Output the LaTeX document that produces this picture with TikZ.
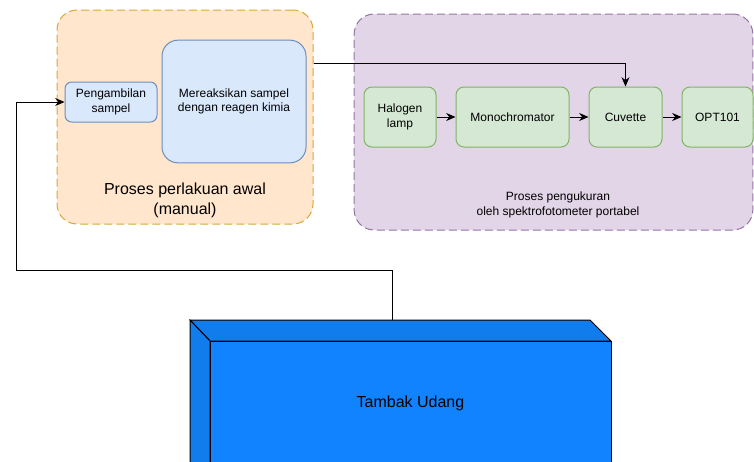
\documentclass[tikz,border=0pt]{standalone}
\usepackage{fontspec}
\setmainfont{Liberation Sans}
\usetikzlibrary{positioning,arrows.meta}
\definecolor{awalfill}{HTML}{FFE6CC}
\definecolor{awalline}{HTML}{D6A83A}
\definecolor{ukurfill}{HTML}{E1D5E7}
\definecolor{ukurline}{HTML}{9673A6}
\definecolor{birufill}{HTML}{DAE8FC}
\definecolor{biruline}{HTML}{6C8EBF}
\definecolor{hijaufill}{HTML}{D5E8D4}
\definecolor{hijauline}{HTML}{82B366}
\definecolor{tambakfront}{HTML}{1283FF}
\definecolor{tambakside}{HTML}{117CEB}
\tikzset{
  wadah/.style={draw, line width=0.75pt, dash pattern=on 6pt off 3pt, rounded corners=15pt},
  birubox/.style={draw=biruline, fill=birufill, line width=0.75pt, align=center,
    font=\fontsize{9}{11}\selectfont},
  hijaubox/.style={draw=hijauline, fill=hijaufill, line width=0.75pt, align=center,
    rounded corners=6pt, minimum height=45pt, font=\fontsize{9}{11}\selectfont},
  panah/.style={-{Stealth[length=7pt,width=6pt]}, line width=0.75pt}
}
\begin{document}
\begin{tikzpicture}[x=0.75pt,y=-0.75pt]
      \clip (0,0) rectangle (754,461);
      % wadah proses
      \node[wadah, draw=awalline, fill=awalfill, minimum width=192pt, minimum height=160.5pt]
        (awal) at (185,117) {};
      \node[wadah, draw=ukurline, fill=ukurfill, minimum width=299pt, minimum height=162pt]
        (ukur) at (553.5,122) {};
      \node[align=center, font=\fontsize{12}{15}\selectfont] (awallabel) at (185,200)
        {Proses perlakuan awal\\(manual)};
      \node[align=center, font=\fontsize{9}{11.25}\selectfont] (ukurlabel) at (558,204.5)
        {Proses pengukuran\\oleh spektrofotometer portabel};
      % perlakuan awal
      \node[birubox, rounded corners=5pt, minimum width=69pt, minimum height=30pt]
        (ambil) at (111,102) {Pengambilan\\sampel};
      \node[birubox, rounded corners=12pt, minimum width=108pt, minimum height=92pt]
        (reaksi) at (234,101.5) {Mereaksikan sampel\\dengan reagen kimia};
      % spektrofotometer
      \node[hijaubox, minimum width=54pt] (halogen) at (400,117) {Halogen\\lamp};
      \node[hijaubox, minimum width=84.75pt] (mono) at (512.5,117) {Monochromator};
      \node[hijaubox, minimum width=54.75pt] (cuvette) at (625.5,117) {Cuvette};
      \node[hijaubox, minimum width=53.25pt] (opt) at (717.5,117) {OPT101};
      % tambak
      \draw[fill=tambakside, line width=0.75pt] (190,320) -- (590,320) -- (611,341) -- (210,341) -- cycle;
      \draw[fill=tambakside, line width=0.75pt] (190,320) -- (210,341) -- (210,480) -- (190,480) -- cycle;
      \node[draw, fill=tambakfront, line width=0.75pt, minimum width=300.75pt, minimum height=93pt,
        font=\fontsize{12}{14}\selectfont] (tambak) at (410.5,403) {Tambak Udang};
      \coordinate (tambaktop) at (392,320);
      \begin{scope}[panah]
        \draw (halogen) -- (mono);
        \draw (mono) -- (cuvette);
        \draw (cuvette) -- (opt);
        \draw (awal.east |- 0,63) -| (cuvette);
        \draw (tambaktop) |- (16,270) |- (ambil.west);
      \end{scope}
    \end{tikzpicture}
\end{document}
